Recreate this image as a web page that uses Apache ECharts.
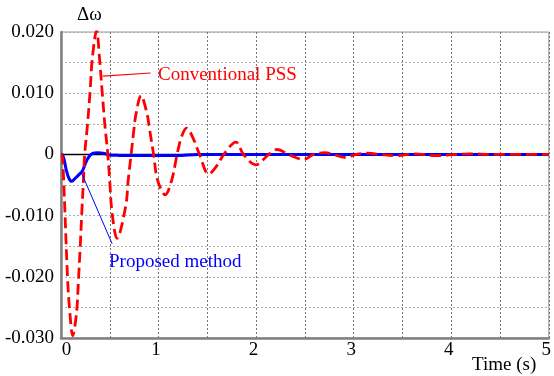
<!DOCTYPE html>
<html>
<head>
<meta charset="utf-8">
<script src="https://cdn.jsdelivr.net/npm/echarts@6/dist/echarts.min.js"></script>
<style>
html,body{margin:0;padding:0;background:#fff;}
#c{width:554px;height:376px;}
</style>
</head>
<body>
<div id="c"></div>
<script>
// ---- data (time in s, value of delta omega) ----
const conventionalPSS = [
  [0, 0], [0.01, 0], [0.027, -0.0042], [0.068, -0.0205], [0.091, -0.0259], [0.12, -0.0296],
  [0.159, -0.0259], [0.179, -0.0205], [0.197, -0.0151], [0.213, -0.0096], [0.230, -0.0042],
  [0.243, 0], [0.271, 0.0048], [0.298, 0.0102], [0.321, 0.0157], [0.365, 0.0202],
  [0.395, 0.0157], [0.422, 0.0102], [0.450, 0.0048], [0.480, 0], [0.500, -0.0045],
  [0.524, -0.0096], [0.574, -0.0137], [0.663, -0.0085], [0.689, -0.0042], [0.719, 0],
  [0.747, 0.004], [0.77, 0.0067], [0.82, 0.0096], [0.881, 0.0067], [0.909, 0.004],
  [0.949, 0], [0.99, -0.0042], [1.068, -0.0066], [1.135, -0.0042], [1.19, 0],
  [1.236, 0.0029], [1.287, 0.0043], [1.35, 0.0028], [1.42, 0], [1.514, -0.0032],
  [1.6, -0.0018], [1.669, 0], [1.793, 0.002], [1.87, 0], [1.996, -0.0017], [2.13, 0],
  [2.216, 0.0008], [2.33, 0], [2.486, -0.0008], [2.59, 0], [2.705, 0.0003], [2.79, 0],
  [2.908, -0.0005], [3.03, 0], [3.15, 0.0002], [3.27, 0], [3.45, -0.0002], [3.62, 0.0001],
  [3.85, -0.0002], [4.05, 0], [4.2, 0.0001], [4.4, 0], [5, 0]
];
const proposedMethod = [
  [0, 0], [0.014, 0], [0.055, -0.0026], [0.081, -0.0039], [0.111, -0.0044], [0.146, -0.0039],
  [0.197, -0.0031], [0.223, -0.0026], [0.257, -0.0012], [0.291, -0.0003], [0.324, 0.00016],
  [0.375, 0.00026], [0.443, 0.00016], [0.493, -0.0001], [0.592, -0.00016], [1.2, -0.0002],
  [1.4, 0], [5, 0]
];
const zeroLine = [[0, 0], [5, 0]];
const xTickLabels = ['0', '1', '2', '3', '4', '5'];
const yTickLabels = ['-0.030', '-0.020', '-0.010', '0', '0.010', '0.020'];
const convLeader = [[0.428, 0.0128], [0.919, 0.0133]];
const propLeader = [[0.207, -0.0029], [0.524, -0.0146]];

const FONT = '"Liberation Serif", "Times New Roman", serif';
const chart = echarts.init(document.getElementById('c'));
chart.setOption({
  animation: false,
  backgroundColor: '#fff',
  grid: { left: 61, right: -1, top: 32, bottom: 38, show: true, borderColor: '#999', borderWidth: 1 },
  xAxis: {
    type: 'value', min: 0, max: 5, interval: 0.5,
    axisLine: { onZero: false, lineStyle: { color: '#808080', width: 2.5 } },
    axisTick: { show: false },
    splitLine: { show: true, lineStyle: { type: [2, 2], color: '#777', width: 1 } },
    axisLabel: {
      margin: 3, color: '#000', fontFamily: FONT, fontSize: 19,
      formatter: function (v) {
        const r = Math.round(v * 2);
        if (r % 2 !== 0) return '';
        const s = xTickLabels[r / 2];
        return r === 0 ? '{z|' + s + '}' : '{n|' + s + '}';
      },
      rich: {
        z: { fontFamily: FONT, fontSize: 19, color: '#000', padding: [0, 0, 0, 11] },
        n: { fontFamily: FONT, fontSize: 19, color: '#000', padding: [0, 5, 0, 0] }
      }
    }
  },
  yAxis: {
    type: 'value', min: -0.03, max: 0.02, interval: 0.005,
    axisLine: { show: true, lineStyle: { color: '#808080', width: 2.5 } },
    axisTick: { show: false },
    splitLine: { show: true, lineStyle: { type: [2, 2], color: '#b0b0b0', width: 1 } },
    axisLabel: {
      margin: 7, color: '#000', fontFamily: FONT, fontSize: 19,
      formatter: function (v) {
        const r = Math.round(v / 0.005);
        if (r % 2 !== 0) return '';
        return yTickLabels[r / 2 + 3];
      }
    }
  },
  series: [
    {
      type: 'line', data: zeroLine, symbol: 'none', silent: true, z: 1,
      lineStyle: { color: '#000', width: 1.5 }
    },
    {
      name: 'Proposed method', type: 'line', data: proposedMethod, symbol: 'none', smooth: 0.3, z: 3,
      lineStyle: { color: '#0000ff', width: 3 },
      markLine: {
        silent: true, symbol: 'none', label: { show: false },
        lineStyle: { color: '#0000ff', width: 1, type: 'solid' },
        data: [[{ coord: propLeader[0] }, { coord: propLeader[1] }]]
      }
    },
    {
      name: 'Conventional PSS', type: 'line', data: conventionalPSS, symbol: 'none', smooth: 0.35, z: 4,
      lineStyle: { color: '#ff0000', width: 2.8, type: [11, 5] },
      markLine: {
        silent: true, symbol: 'none', label: { show: false },
        lineStyle: { color: '#ff0000', width: 1.2, type: 'solid' },
        data: [[{ coord: convLeader[0] }, { coord: convLeader[1] }]]
      }
    }
  ],
  graphic: [
    { type: 'text', left: 77, top: 6, style: { text: 'Δω', font: '19px ' + FONT, fill: '#000' } },
    { type: 'text', left: 158, top: 66, style: { text: 'Conventional PSS', font: '19px ' + FONT, fill: '#ff0000' } },
    { type: 'text', left: 109, top: 253, style: { text: 'Proposed method', font: '19px ' + FONT, fill: '#0000ff' } },
    { type: 'text', left: 472, top: 356, style: { text: 'Time (s)', font: '19px ' + FONT, fill: '#000' } }
  ]
});
</script>
</body>
</html>
